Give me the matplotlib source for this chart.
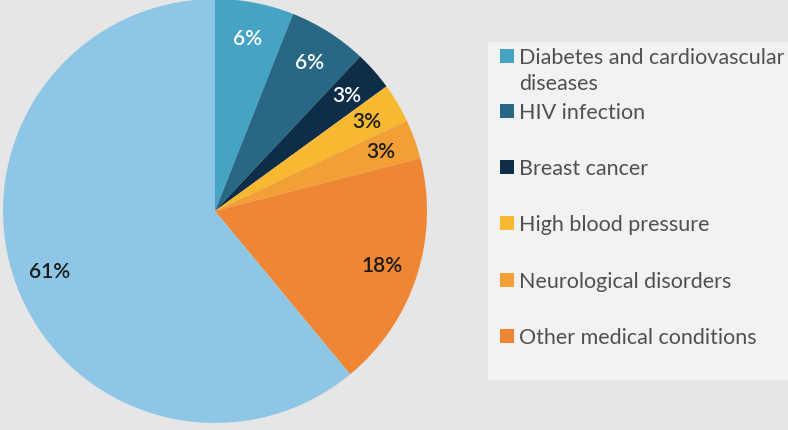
import matplotlib.pyplot as plt
from matplotlib.patches import Rectangle

plt.rcParams['font.family'] = ['Lato', 'DejaVu Sans']

# data
labels = ['Diabetes and cardiovascular\ndiseases', 'HIV infection', 'Breast cancer',
          'High blood pressure', 'Neurological disorders', 'Other medical conditions', '']
values = [6, 6, 3, 3, 3, 18, 61]
colors = ['#45A3C4', '#296884', '#0E2D48', '#F6B931', '#F29F35', '#EF8633', '#8EC7E5']
text_colors = ['white', 'white', 'white', '#1a1a1a', '#1a1a1a', '#1a1a1a', '#1a1a1a']

fig = plt.figure(figsize=(7.88, 4.31), dpi=100)
fig.patch.set_facecolor('#E6E6E6')

ax = fig.add_axes([3 / 788, 7 / 431, 424 / 788, 424 / 431])
wedges, texts, autotexts = ax.pie(values, colors=colors, startangle=90, counterclock=False,
                                  autopct='%d%%', pctdistance=0.83,
                                  wedgeprops=dict(linewidth=0))
for t, c in zip(autotexts, text_colors):
    t.set_color(c)
    t.set_fontsize(15)
    t.set_fontweight('semibold')
ax.set_xlim(-1, 1)
ax.set_ylim(-1, 1)
ax.set_aspect('equal')
ax.axis('off')

# legend box
W, H = 788, 431
fig.patches.append(Rectangle((488 / W, 1 - 381 / H), 300 / W, 338 / H,
                             transform=fig.transFigure, facecolor='#F2F2F2',
                             edgecolor='none', zorder=0))
ys = [57, 112, 168, 224, 281, 337]
for lab, col, y in zip(labels[:6], colors[:6], ys):
    fig.patches.append(Rectangle((500 / W, 1 - (y + 7) / H), 14 / W, 14 / H,
                                 transform=fig.transFigure, facecolor=col,
                                 edgecolor='none', zorder=1))
    fig.text(519 / W, 1 - (y - 9) / H, lab, fontsize=15.5, color='#505050',
             va='top', ha='left', linespacing=1.4)

fig.savefig('out.png', dpi=100, facecolor=fig.get_facecolor())
